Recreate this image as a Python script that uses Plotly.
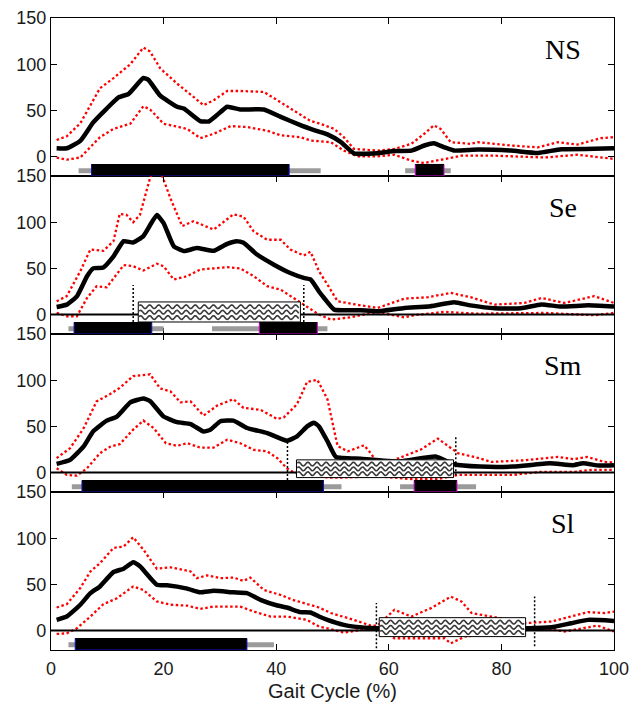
import numpy as np
import plotly.graph_objects as go
from plotly.subplots import make_subplots

# ---------------- data ----------------
panel_names = ["NS", "Se", "Sm", "Sl"]

ns_mean_x = [1, 2.8, 5.2, 7.5, 9.9, 12, 13.8, 16.4, 17.3, 19.4, 22.4, 23.6, 26.5, 28, 29.5, 31.3, 33.6, 37.8, 40.8, 44.3, 46.1, 47.6, 49.1, 51.5, 53.8, 58, 61, 64, 66.3, 68, 69.9, 71.6, 75.8, 81.7, 86.5, 90.6, 96.5, 100]
ns_mean_y = [9, 9, 17, 37, 52, 64, 68, 85, 83, 66, 54, 52, 38.5, 38, 45, 54, 51, 51, 43, 34, 30, 27, 24, 15.6, 3.6, 3.6, 6, 6.5, 12, 14.5, 10, 6.5, 7.6, 6.5, 4, 8, 8.4, 9]
ns_up_x = [1, 2.8, 5.2, 8.7, 11.1, 14.1, 16.4, 17.6, 19.4, 22.4, 25.3, 27.1, 28.9, 31.3, 33.6, 37.8, 40.2, 44.3, 46.1, 47.6, 50.3, 52, 53.8, 58, 61, 64, 66.3, 68, 69.2, 71, 74.5, 75.8, 81.7, 86.5, 90, 93.5, 97.7, 100]
ns_up_y = [18, 22, 36, 74, 85, 100, 118, 113.6, 95.5, 79, 64.6, 55.6, 61, 71, 71, 70, 61, 44.7, 38.5, 36, 30, 21, 8.4, 6.5, 8.4, 13.8, 24.7, 33.8, 30, 15.6, 13.8, 15.6, 12, 10, 15.6, 13, 20, 21]
ns_lo_x = [1, 2.8, 5.2, 8.7, 11.1, 14.1, 16.4, 17.6, 20, 22.4, 24.2, 26.5, 28.9, 31.9, 34.8, 38.4, 40.8, 44.3, 46.1, 49.7, 52, 54.4, 58, 61, 64, 66.3, 69.9, 72.9, 78.8, 87.7, 93.5, 98.3, 100]
ns_lo_y = [-1, -3.3, -1, 21, 30, 35.6, 54.5, 51, 35.6, 32, 30, 20, 24.7, 33, 32, 28, 23, 21, 17.4, 15.6, 6.5, 0.3, 0.3, 2, -4.4, -7, -2.5, 1, 1, -1, 2, -1, -2.5]

se_mean_x = [1, 2.8, 4.6, 6.4, 7.5, 9.3, 11.1, 12.9, 14.6, 16.4, 18.8, 20, 21.8, 23.6, 25.9, 28.9, 31.3, 33, 34.2, 36.6, 39.6, 42.5, 44.9, 46.1, 47.6, 48.5, 50.3, 55, 58, 62.8, 67, 71.6, 74.5, 78.8, 83.5, 87.1, 90.6, 95.4, 100]
se_mean_y = [8.3, 10.8, 19.8, 41.5, 50, 51, 63, 79.5, 78, 85, 107.7, 99, 74, 68.7, 72, 69, 76.6, 79.5, 77.7, 65, 54, 45, 39.7, 38, 25, 18, 5.4, 4.7, 3.6, 7.2, 8.7, 13.3, 10, 6.9, 6.9, 11, 8.7, 10, 8.7]
se_up_x = [1, 2.8, 5.2, 7, 9.3, 11.1, 12.2, 13.4, 14.6, 15.8, 17.6, 18.8, 19.7, 21.2, 23.3, 25.3, 28.9, 32.4, 34.2, 36, 38.4, 40.8, 42.5, 44.9, 46.1, 47.6, 49.1, 50.9, 55, 58, 62.8, 67, 71, 74.5, 78.8, 84.1, 87.1, 91.2, 96.5, 100]
se_up_y = [14.4, 20, 47, 70.5, 69, 79.5, 109, 108, 100, 108, 148, 165, 151, 126, 95.8, 101, 92, 108.5, 106, 90, 81, 81, 70.5, 64, 68, 47, 32.5, 14.4, 10, 7.2, 17.3, 18.8, 23.5, 18.8, 10.8, 12.6, 18, 12.6, 20, 12.6]
se_lo_x = [1, 2.8, 4.6, 6.4, 8.1, 9.9, 12.9, 14.6, 16.4, 18.8, 20, 21.8, 24.2, 26.5, 31.3, 33.6, 36, 38.4, 40.8, 43.1, 45.5, 47.6, 49.7, 53.2, 58, 62.8, 65.2, 69.9, 75.8, 87.7, 96.5, 100]
se_lo_y = [1.8, -1.8, -1.8, 18, 30.7, 29.5, 53.5, 52.4, 47.7, 55, 52.4, 38, 41.6, 48.8, 51.3, 50, 41.6, 30.7, 27, 18, 8, 0, -5.4, -3, 2.9, -3, 0, 2.9, 1, 1.8, -0.7, 1.8]

sm_mean_x = [1, 3.4, 5.8, 7.5, 9.9, 11.7, 14.1, 16.4, 17.6, 20, 22.4, 24.8, 27.1, 28.3, 30.1, 32.4, 34.8, 38.4, 41.9, 43.7, 45.5, 46.7, 47.6, 49.1, 50.6, 55, 62, 68.3, 71.6, 76.2, 82.1, 88.6, 92.7, 94.5, 97.4, 100]
sm_mean_y = [9.5, 13.8, 28.3, 44.7, 56.3, 60.7, 76, 80.3, 77.4, 60.7, 54.6, 52.5, 44.5, 46.4, 55.6, 56.3, 48.3, 42.8, 34.5, 39.2, 50, 54, 50, 34, 17, 15, 12, 17.4, 9, 6.5, 6.5, 10, 8, 10, 7.6, 8]
sm_up_x = [1, 3.4, 5.8, 8.1, 10.5, 12.2, 14.6, 17.6, 19.4, 21.2, 23, 24.8, 27.1, 29.5, 32.4, 34.2, 37.2, 40.2, 41.4, 43.7, 45.5, 47.3, 49.1, 50.9, 52.7, 54.4, 55.6, 56.8, 58, 61, 64, 65.7, 68.7, 70.5, 72.3, 75.8, 78.2, 84.1, 90, 92.9, 95.2, 98.3, 100]
sm_up_y = [15.6, 26.5, 48, 77, 85, 91.7, 104.5, 106.4, 91, 88, 76, 77, 61.7, 72.5, 79.5, 70, 68, 58, 60, 74, 98.3, 100.5, 79.5, 28.8, 23, 27, 29.5, 21, 10, 13.8, 21, 25, 36.8, 28.8, 21, 16, 11.6, 13.3, 17, 14.5, 17, 11.6, 11]
sm_lo_x = [1, 2.8, 4.6, 6.4, 8.7, 10.5, 12.2, 14.6, 16.4, 18.2, 20.4, 22.4, 24.2, 26.5, 28.9, 31.3, 33.6, 36, 38.4, 40.2, 41.9, 43.1, 46, 49.7, 51.5, 58, 64, 68.7, 72.3, 75.8, 82.1, 86.8, 92.7, 96.2, 100]
sm_lo_y = [4.7, -2.5, -3.3, 4.7, 21, 28, 30.8, 46.5, 56.3, 48.3, 31.8, 29, 31.8, 27, 27, 35.6, 31.8, 24.7, 23, 15.6, 4.7, 0.3, -3, -5.4, -5.4, -4, -7, -7, -2.5, -2.5, -2.5, 0.7, 0.7, 3, 3]

sl_mean_x = [1, 2.8, 5.2, 7, 8.7, 11.1, 12.9, 14.6, 15.8, 18.8, 20.6, 24.2, 26.5, 28.9, 32.4, 34.8, 37.2, 40.2, 41.9, 44.3, 46.1, 47.6, 49.1, 52, 53.8, 58, 71, 84.7, 88.9, 92.4, 95.4, 100]
sl_mean_y = [11.6, 15.2, 28, 40.5, 47.8, 63.4, 67, 74, 69.6, 49.6, 49, 45.4, 41.4, 43, 41.4, 40.6, 33.3, 27.2, 25, 20, 19.6, 15.2, 11.6, 6.2, 4.3, 2.5, 3, 2.5, 3.6, 8, 11.6, 10.5]
sl_up_x = [1, 2.8, 5.2, 7, 8.7, 11.1, 12.9, 14.6, 16.4, 18.8, 21.2, 24.8, 25.9, 27.7, 30.1, 32.4, 34.2, 35.4, 37.8, 40.8, 43.1, 45.5, 47.6, 49.7, 52, 53.8, 56.8, 58, 61, 64, 67.5, 71, 72.9, 74.7, 78.8, 84.1, 88.9, 91.2, 95.4, 98.3, 100]
sl_up_y = [25, 28.6, 46, 64, 73, 89.5, 91, 101, 87.7, 67, 68.5, 64, 56.7, 59.8, 56.7, 57.4, 53.8, 57.4, 44, 38.5, 33, 28.6, 25, 19, 15.2, 11.6, 5.4, 5.4, 22.5, 15.2, 24.3, 36.8, 31.5, 19, 14.5, 8, 9.8, 13.4, 20, 19, 20.6]
sl_lo_x = [1, 2.8, 4.6, 7, 9.3, 11.7, 14.6, 16.4, 18.8, 21.2, 24.2, 26.5, 28.9, 33.6, 36, 39, 41.9, 45.5, 47.6, 49.1, 52, 55, 58, 61, 69.9, 71, 73.5, 84.1, 87.7, 91.2, 97.1, 100]
sl_lo_y = [-3.6, -3, 2.5, 15.2, 28.6, 35, 47.8, 44, 31.5, 28, 27, 23.5, 26, 26, 20.6, 15.2, 15.2, 11.6, 4.3, 2.5, -2.2, 0.7, 2.5, -8.3, -8.3, -13.8, -6.5, 0.7, 2.5, -1, 5.4, -1]

# activity bars: (start, end)
gray_bars = [
    [(4.9, 47.9), (62.9, 71.0)],
    [(3.1, 20.0), (28.6, 49.1)],
    [(3.7, 51.6), (62.0, 75.5)],
    [(3.1, 39.6)],
]
black_bars = [
    [(7.2, 42.3), (64.7, 69.8)],
    [(4.1, 17.9), (37.0, 47.3)],
    [(5.5, 48.4), (64.5, 72.1)],
    [(4.3, 34.8)],
]
# hatched boxes: (x0, x1, y0, y1)
hatch_boxes = [
    [],
    [(15.5, 44.3, -8, 13.7)],
    [(43.6, 71.5, -5.4, 13.8)],
    [(58.3, 84.3, -6.5, 14.0)],
]
# vertical dotted markers: (x, ytop, ybottom)
vlines = [
    [],
    [(14.6, 32, -21), (44.9, 32, -21)],
    [(42.0, 32, -21), (71.9, 39, -3)],
    [(57.8, 30, -19), (85.9, 37, -17)],
]
show_zero = [False, True, True, True]

means = [(ns_mean_x, ns_mean_y), (se_mean_x, se_mean_y), (sm_mean_x, sm_mean_y), (sl_mean_x, sl_mean_y)]
ups = [(ns_up_x, ns_up_y), (se_up_x, se_up_y), (sm_up_x, sm_up_y), (sl_up_x, sl_up_y)]
los = [(ns_lo_x, ns_lo_y), (se_lo_x, se_lo_y), (sm_lo_x, sm_lo_y), (sl_lo_x, sl_lo_y)]

y_ticks = [0, 50, 100, 150]
x_ticks = [0, 20, 40, 60, 80, 100]
YMIN, YMAX = -21, 150

# ---------------- figure ----------------
fig = make_subplots(rows=4, cols=1, shared_xaxes=True, vertical_spacing=0)

red_dot = dict(color="#ff0000", width=2.3, dash="2.5px,2.5px")

for i in range(4):
    r = i + 1
    for (xs, ys) in (ups[i], los[i]):
        fig.add_trace(go.Scatter(x=xs, y=ys, mode="lines", line=red_dot,
                                 showlegend=False, hoverinfo="skip"), row=r, col=1)
    fig.add_trace(go.Scatter(x=means[i][0], y=means[i][1], mode="lines",
                             line=dict(color="black", width=4.5, shape="spline", smoothing=0.4),
                             showlegend=False, hoverinfo="skip"), row=r, col=1)


def refs(i):
    return ("x" if i == 0 else f"x{i+1}", "y" if i == 0 else f"y{i+1}")


def wave_path(x0, x1, yc, amp, period):
    xs = np.arange(x0 + 0.15, x1 - 0.15, period / 10.0)
    ys = yc + amp * np.sin(2 * np.pi * (xs - x0) / period)
    return "M " + " L ".join(f"{a:.3f},{b:.3f}" for a, b in zip(xs, ys))


for i in range(4):
    xr, yr = refs(i)
    if show_zero[i]:
        fig.add_shape(type="line", xref=xr, yref=yr, x0=0, x1=100, y0=0, y1=0,
                      line=dict(color="black", width=2), layer="above")
    for (vx, vt, vb) in vlines[i]:
        fig.add_shape(type="line", xref=xr, yref=yr, x0=vx, x1=vx, y0=vb, y1=vt,
                      line=dict(color="black", width=1.5, dash="2px,2px"), layer="above")
    for (bx0, bx1, by0, by1) in hatch_boxes[i]:
        fig.add_shape(type="rect", xref=xr, yref=yr, x0=bx0, x1=bx1, y0=by0, y1=by1,
                      fillcolor="white", line=dict(color="black", width=1), layer="above")
        h = by1 - by0
        for frac in (0.24, 0.51, 0.78):
            yc = by1 - frac * h
            fig.add_shape(type="path", xref=xr, yref=yr,
                          path=wave_path(bx0, bx1, yc, 2.0, 1.62),
                          line=dict(color="#3a3a3a", width=1.6), layer="above")
    for (gx0, gx1) in gray_bars[i]:
        fig.add_shape(type="rect", xref=xr, yref=yr, x0=gx0, x1=gx1, y0=-18, y1=-12.5,
                      fillcolor="#9b9b9b", line=dict(width=0), layer="above")
    for k, (bx0, bx1) in enumerate(black_bars[i]):
        acc = "#1010c0" if k == 0 else "#d000d0"
        fig.add_shape(type="rect", xref=xr, yref=yr, x0=bx0, x1=bx1, y0=-21, y1=-8.6,
                      fillcolor="black", line=dict(color=acc, width=1), layer="above")
        fig.add_shape(type="line", xref=xr, yref=yr, x0=bx0, x1=bx1, y0=-8.6, y1=-8.6,
                      line=dict(color="black", width=1.2), layer="above")
    fig.add_annotation(x=91, y=116, xref=xr, yref=yr, text=panel_names[i], showarrow=False,
                       font=dict(family="Liberation Serif, Times New Roman, serif", size=28, color="black"))

tick_font = dict(family="Liberation Sans, Arial, sans-serif", size=18, color="#1a1a1a")
fig.update_yaxes(range=[YMIN, YMAX], tickvals=y_ticks, ticks="inside", ticklen=6, tickwidth=1,
                 tickcolor="black", showline=True, linecolor="black", linewidth=1.3, mirror="ticks",
                 showgrid=False, zeroline=False, tickfont=tick_font, automargin=False)
fig.update_xaxes(range=[0, 100], tickvals=x_ticks, ticks="inside", ticklen=6, tickwidth=1,
                 tickcolor="black", showline=True, linecolor="black", linewidth=1.3, mirror="ticks",
                 showgrid=False, zeroline=False, tickfont=tick_font, automargin=False)
for r in (1, 2, 3):
    fig.update_xaxes(showticklabels=False, row=r, col=1)
fig.update_xaxes(ticklabelstandoff=2,
                 title=dict(text="Gait Cycle (%)", standoff=8,
                            font=dict(family="Liberation Sans, Arial, sans-serif", size=20, color="#1a1a1a")),
                 row=4, col=1)

fig.update_layout(width=634, height=702, margin=dict(l=51, r=20, t=18, b=52, autoexpand=False),
                  plot_bgcolor="white", paper_bgcolor="white", showlegend=False)

fig.write_html("out.html")
